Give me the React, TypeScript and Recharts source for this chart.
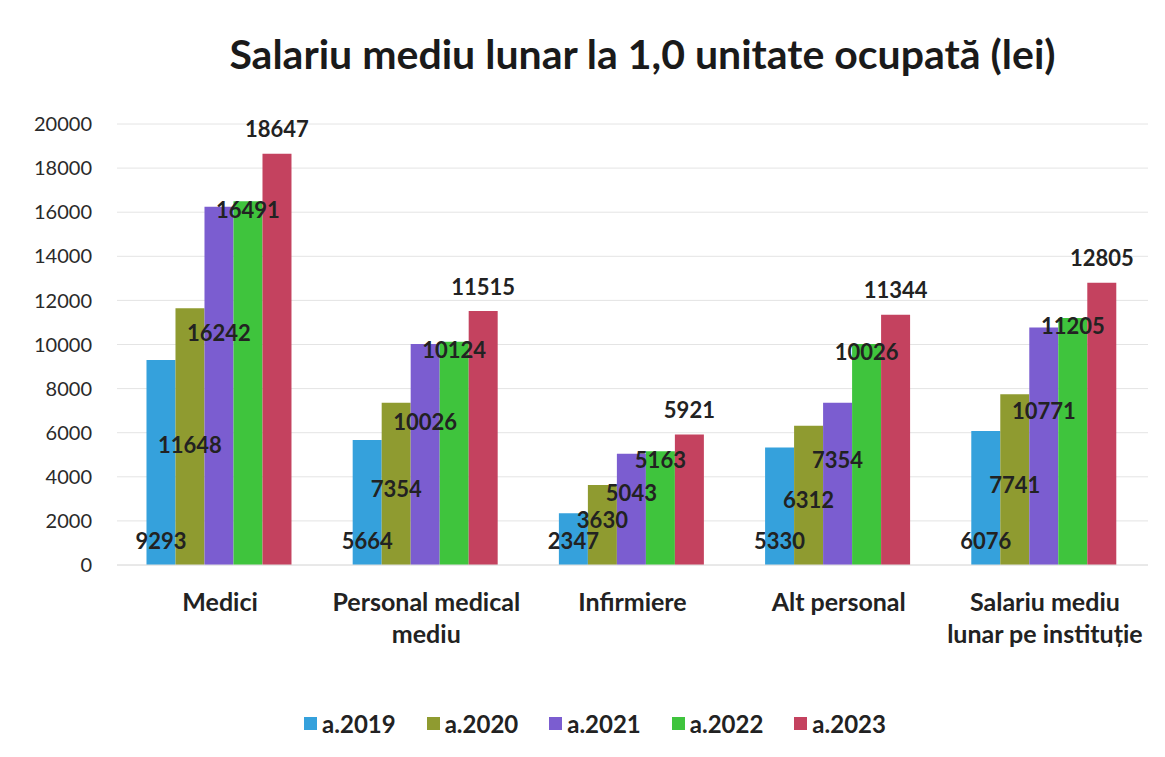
import { BarChart, Bar, XAxis, YAxis, CartesianGrid, LabelList } from 'recharts'

const categories = ['Medici', 'Personal medical mediu', 'Infirmiere', 'Alt personal', 'Salariu mediu lunar pe instituție']
const categoryLines = [['Medici'], ['Personal medical', 'mediu'], ['Infirmiere'], ['Alt personal'], ['Salariu mediu', 'lunar pe instituție']]

const y2019 = [9293, 5664, 2347, 5330, 6076]
const y2020 = [11648, 7354, 3630, 6312, 7741]
const y2021 = [16242, 10026, 5043, 7354, 10771]
const y2022 = [16491, 10124, 5163, 10026, 11205]
const y2023 = [18647, 11515, 5921, 11344, 12805]

const seriesNames = ['a.2019', 'a.2020', 'a.2021', 'a.2022', 'a.2023']
const seriesKeys = ['y2019', 'y2020', 'y2021', 'y2022', 'y2023']
const colors = ['#35a1dc', '#8f9b30', '#7b5dd0', '#3fc43d', '#c4425f']

const yTicks = [0, 2000, 4000, 6000, 8000, 10000, 12000, 14000, 16000, 18000, 20000]

const data = categories.map((name, i) => ({
  name,
  lines: categoryLines[i],
  y2019: y2019[i],
  y2020: y2020[i],
  y2021: y2021[i],
  y2022: y2022[i],
  y2023: y2023[i],
}))

const FONT = 'Lato, "Open Sans", sans-serif'

// Excel-style staggered data labels: each series sits at its own height relative to its bar
function labelFor(seriesIdx: number) {
  return (p: any) => {
    const vb = p.viewBox || p
    const x = Number(vb.x), y = Number(vb.y), w = Number(vb.width), h = Number(vb.height)
    let cy = y
    if (seriesIdx === 0) cy = y + h - 25
    else if (seriesIdx === 1) cy = Math.min(y + h * 0.53, y + h - 46)
    else if (seriesIdx === 2) cy = y + h * 0.35
    else if (seriesIdx === 3) cy = y + 8
    else cy = y - 25
    return (
      <text x={x + w / 2} y={cy} textAnchor="middle" dominantBaseline="central"
        fontFamily={FONT} fontWeight={700} fontSize={22} fill="#222">
        {p.value}
      </text>
    )
  }
}

function CategoryTick(props: any) {
  const { x, y, payload } = props
  const lines: string[] = data[payload.index]?.lines || [payload.value]
  return (
    <text x={x} y={y} textAnchor="middle" fontFamily={FONT} fontWeight={700} fontSize={25} fill="#222">
      {lines.map((l, i) => (
        <tspan key={i} x={x} dy={i === 0 ? 38 : 32}>{l}</tspan>
      ))}
    </text>
  )
}

export default function App() {
  return (
    <div style={{ position: 'absolute', left: 0, top: 0, width: 1165, height: 757, background: '#fff', fontFamily: FONT }}>
      <div style={{ position: 'absolute', left: 0, top: 28, width: 1285, textAlign: 'center', fontSize: 41, lineHeight: '52px', fontWeight: 700, color: '#1a1a1a' }}>
        Salariu mediu lunar la 1,0 unitate ocupată (lei)
      </div>
      <BarChart width={1165} height={757} data={data} barCategoryGap="14.3%" barGap={0}
        margin={{ top: 124, right: 17, bottom: 162, left: 0 }}>
        <CartesianGrid stroke="#e4e4e4" vertical={false} />
        <XAxis dataKey="name" height={30} tick={<CategoryTick />} tickLine={false} axisLine={{ stroke: '#e0e0e0' }} interval={0} />
        <YAxis domain={[0, 20000]} ticks={yTicks} width={117} tickLine={false} axisLine={false}
          tickMargin={19} tick={{ fontFamily: FONT, fontSize: 20, fill: '#2a2a2a' }} />
        {seriesKeys.map((k, i) => (
          <Bar key={k} dataKey={k} name={seriesNames[i]} fill={colors[i]} isAnimationActive={false}>
            <LabelList dataKey={k} content={labelFor(i)} />
          </Bar>
        ))}
      </BarChart>
      <div style={{ position: 'absolute', left: 0, top: 709, width: 1190, display: 'flex', justifyContent: 'center', gap: 31 }}>
        {seriesNames.map((n, i) => (
          <div key={n} style={{ display: 'flex', alignItems: 'center', fontSize: 24, fontWeight: 700, color: '#222' }}>
            <span style={{ width: 13, height: 13, background: colors[i], marginRight: 5, display: 'inline-block' }} />
            {n}
          </div>
        ))}
      </div>
    </div>
  )
}
